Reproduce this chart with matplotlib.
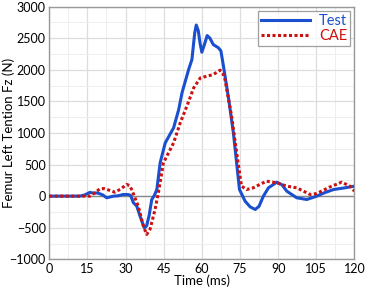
import matplotlib
matplotlib.use("Agg")
import matplotlib.pyplot as plt
from matplotlib.ticker import MultipleLocator

plt.rcParams['font.family'] = ['Lato', 'DejaVu Sans']

test_t = [0, 12, 14, 16, 17, 19, 21, 22.6, 25.2, 27, 29.1, 31, 32, 33.1, 34.4, 35.7, 36.7, 37.4, 38.3,
          39.3, 40.3, 41.3, 42.3, 43.6, 45.6, 48.9, 50.9, 52.2, 54.8, 56.1, 57.2, 57.8, 58.6, 59.3, 60,
          61, 62.1, 63.2, 64.5, 66.5, 67.5, 68.5, 70.5, 72.4, 74.8, 77, 79, 81, 82.5, 84.2, 86.2, 89.5,
          91.5, 93.4, 97.3, 101.3, 105.2, 108, 111.8, 116, 120]
test_v = [0, 0, 20, 60, 50, 50, 20, -26, 0, 5, 26, 26, 10, -105, -158, -317, -430, -501, -470,
          -300, -53, 10, 105, 528, 844, 1082, 1372, 1636, 2005, 2164, 2586, 2710, 2620, 2420, 2279,
          2400, 2543, 2500, 2400, 2350, 2300, 2058, 1550, 1003, 105, -79, -170, -211, -160, 0, 132, 221,
          180, 79, -26, -53, 0, 50, 105, 130, 158]

cae_t = [0, 14, 16, 17.5, 19.9, 21.5, 23.5, 25.8, 28, 30.4, 31.5, 32.4, 35, 37, 38.3, 39.6, 41.6,
         42.9, 44.9, 48.9, 51.5, 54.1, 56.8, 59.4, 62, 64.5, 67.2, 68.2, 69.1, 71.7, 73.7, 75.6, 77.6,
         80.2, 85.4, 89.5, 93.4, 97.3, 102.6, 105.2, 110.5, 115, 118.3, 120]
cae_v = [0, 0, 0, 40, 116, 120, 95, 63, 110, 185, 170, 105, -158, -475, -607, -527, -211,
         53, 528, 844, 1161, 1425, 1715, 1873, 1900, 1926, 1995, 1950, 1847, 1266, 686, 158, 105,
         132, 237, 211, 158, 132, 26, 42, 148, 221, 158, 79]

xticks = [0, 15, 30, 45, 60, 75, 90, 105, 120]
yticks = [-1000, -500, 0, 500, 1000, 1500, 2000, 2500, 3000]

fig = plt.figure(figsize=(3.65, 2.88), dpi=100)
ax = fig.add_axes([0.135, 0.0997, 0.836, 0.877])

ax.plot(test_t, test_v, color='#1a4fcf', lw=2.2, label='Test', zorder=3)
ax.plot(cae_t, cae_v, color='#cc1111', lw=2.2, ls=(0, (1, 0.8)), label='CAE', zorder=3)

ax.axhline(0, color='#888888', lw=1.0, zorder=2)

ax.set_xlim(0, 120)
ax.set_ylim(-1000, 3000)
ax.set_xticks(xticks)
ax.set_yticks(yticks)
ax.xaxis.set_minor_locator(MultipleLocator(7.5))
ax.yaxis.set_minor_locator(MultipleLocator(250))
ax.grid(which='major', color='#dddddd', lw=0.9)
ax.grid(which='minor', color='#eeeeee', lw=0.7)
ax.set_axisbelow(True)
ax.tick_params(which='both', length=0, labelsize=9, pad=2.5)
for s in ax.spines.values():
    s.set_color('#999999')
    s.set_linewidth(1.0)

ax.set_xlabel('Time (ms)', fontsize=9.5, labelpad=0)
ax.set_ylabel('Femur Left Tention Fz (N)', fontsize=9.5)
ax.yaxis.set_label_coords(-0.113, 0.5)

leg = ax.legend(loc='upper right', fontsize=10.5, frameon=True, fancybox=False,
                edgecolor='#888888', handlelength=3.4, borderpad=0.2, labelspacing=0.05,
                handletextpad=0.6, borderaxespad=0.3)
leg.get_frame().set_linewidth(0.9)
for txt, c in zip(leg.get_texts(), ['#1a4fcf', '#cc1111']):
    txt.set_color(c)

fig.savefig('out.png', dpi=100)
